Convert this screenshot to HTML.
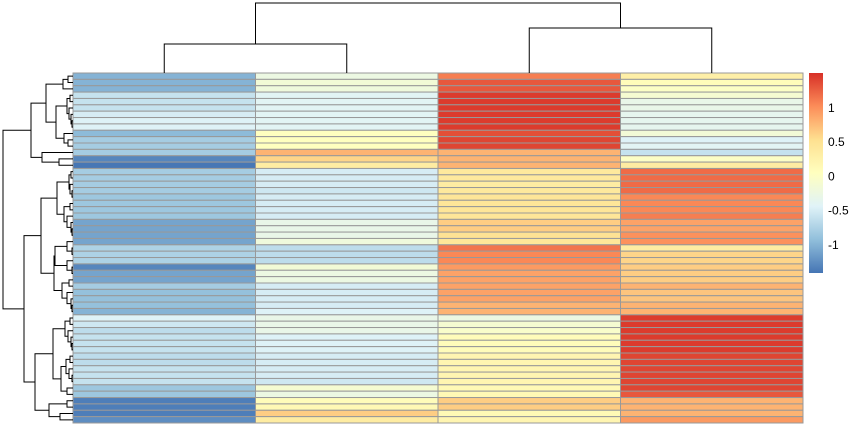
<!DOCTYPE html>
<html><head><meta charset="utf-8"><style>
html,body{margin:0;padding:0;background:#fff;}
svg{display:block;font-family:"Liberation Sans",sans-serif;}
</style></head><body>
<svg id="chart" width="855" height="430"></svg>
<script>
const columns = ["S1","S2","S3","S4"];
const values = [
[-1.0,-0.25,1.1,0.3],[-1.0,-0.15,1.3,0.1],[-1.0,-0.2,1.3,0.0],[-0.6,-0.4,1.45,-0.1],[-0.6,-0.4,1.45,-0.3],
[-0.6,-0.4,1.45,-0.3],[-0.5,-0.4,1.45,-0.35],[-0.45,-0.4,1.45,-0.35],[-0.45,-0.4,1.45,-0.35],[-0.95,0.05,1.35,-0.15],
[-0.8,0.05,1.4,-0.45],[-0.8,0.05,1.4,-0.4],[-0.8,0.8,0.8,-0.6],[-1.3,0.6,0.8,0.0],[-1.4,0.35,0.8,0.35],
[-0.8,-0.5,0.4,1.2],[-0.8,-0.5,0.4,1.2],[-0.8,-0.5,0.35,1.2],[-0.8,-0.55,0.4,1.2],[-0.85,-0.5,0.45,1.05],
[-0.85,-0.5,0.45,1.05],[-0.85,-0.5,0.45,1.05],[-0.85,-0.5,0.45,1.1],[-1.1,-0.3,0.65,0.9],[-1.1,-0.3,0.65,0.9],
[-1.1,-0.3,0.5,1.0],[-1.1,-0.2,0.45,1.0],[-0.75,-0.65,1.15,0.35],[-0.75,-0.65,1.05,0.6],[-0.75,-0.65,1.05,0.6],
[-1.3,-0.15,0.95,0.65],[-1.1,-0.25,0.9,0.65],[-1.1,-0.25,0.9,0.65],[-0.8,-0.5,0.9,0.8],[-0.9,-0.5,0.9,0.7],
[-0.9,-0.5,0.9,0.7],[-0.9,-0.5,0.8,0.8],[-1.0,-0.45,0.8,0.8],[-0.45,-0.3,-0.25,1.45],[-0.55,-0.3,-0.1,1.45],
[-0.65,-0.3,-0.05,1.45],[-0.6,-0.45,0.1,1.45],[-0.6,-0.45,0.1,1.45],[-0.6,-0.45,0.1,1.45],[-0.65,-0.5,0.2,1.4],
[-0.65,-0.5,0.2,1.4],[-0.6,-0.5,0.2,1.4],[-0.6,-0.5,0.2,1.4],[-0.6,-0.55,0.2,1.4],[-0.85,-0.1,0.15,1.4],
[-0.85,-0.25,0.15,1.3],[-1.35,0.1,0.65,0.8],[-1.35,0.15,0.65,0.8],[-1.35,0.65,0.15,0.8],[-1.25,0.35,0.2,0.95]
];
const legendTicks = [1,0.5,0,-0.5,-1];
const vmin = -1.41, vmax = 1.51;
const palette = ["#4575B4","#91BFDB","#E0F3F8","#FFFFBF","#FEE090","#FC8D59","#D73027"];

const NS="http://www.w3.org/2000/svg";
const svg=document.getElementById('chart');
function mk(tag,attrs,parent){const e=document.createElementNS(NS,tag);for(const k in attrs)e.setAttribute(k,attrs[k]);(parent||svg).appendChild(e);return e;}
function hex(h){return [1,3,5].map(i=>parseInt(h.substr(i,2),16));}
function color(v){let t=(v-vmin)/(vmax-vmin);t=Math.max(0,Math.min(1,t))*(palette.length-1);
 const i=Math.min(Math.floor(t),palette.length-2),f=t-i;const a=hex(palette[i]),b=hex(palette[i+1]);
 return "rgb("+a.map((x,k)=>Math.round(x+(b[k]-x)*f)).join(",")+")";}

const X0=73,X1=803,Y0=73,Y1=423;
const nRows=values.length,nCols=columns.length;
const cw=(X1-X0)/nCols,rh=(Y1-Y0)/nRows;
const xCell=j=>X0+j*cw, yCell=i=>Y0+i*rh;

const cells=mk('g',{});


values.forEach((row,i)=>row.forEach((v,j)=>{
 const r=mk('rect',{x:xCell(j),y:yCell(i),width:cw,height:rh,fill:color(v),stroke:"#999999","stroke-width":1},cells);
 
 
}));

// column dendrogram
const cd=mk('g',{stroke:"#000",fill:"none","stroke-width":1});


const cx=j=>xCell(j)+cw/2;
function pl(pts,g){mk('polyline',{points:pts.map(p=>p.join(",")).join(" ")},g);}
pl([[cx(0),73],[cx(0),44],[cx(1),44],[cx(1),73]],cd);
pl([[cx(2),73],[cx(2),28],[cx(3),28],[cx(3),73]],cd);
const m1=(cx(0)+cx(1))/2,m2=(cx(2)+cx(3))/2;
pl([[m1,44],[m1,3],[m2,3],[m2,28]],cd);

// row dendrogram
const rd=mk('g',{stroke:"#000",fill:"none","stroke-width":1});


function n(h,c){return {h:h,c:c};}
const A=n(31,[n(46,[n(63,[n(68,[0,1]),2]),n(56,[n(67,[n(70,[3,4]),n(69,[5,n(71,[6,n(72,[7,8])])])]),n(64,[9,n(68,[10,11])])])]),n(42,[12,n(59,[13,14])])]);
const B=n(41,[n(57,[n(69,[n(71,[15,16]),n(70,[17,n(72,[18,19])])]),n(64,[n(70,[20,21]),n(67,[22,n(71,[23,n(72,[24,25])])])])]),n(54,[n(55,[n(67,[26,n(72,[27,28])]),n(67,[29,n(72,[30,31])])]),n(62,[n(69,[32,33]),n(67,[34,n(71,[35,n(72,[36,37])])])])])]);
const C=n(35,[n(53,[n(65,[n(70,[38,39]),n(68,[40,n(71,[41,n(72,[42,43])])])]),n(61,[n(66,[n(70,[44,45]),n(69,[46,n(72,[47,48])])]),n(67,[49,50])])]),n(49,[n(67,[51,52]),n(60,[53,54])])]);
const root=n(3,[A,n(24,[B,C])]);
function draw(node){
 if(typeof node==="number")return {x:73,y:yCell(node)+rh/2};
 const a=draw(node.c[0]),b=draw(node.c[1]);
 pl([[a.x,a.y],[node.h,a.y],[node.h,b.y],[b.x,b.y]],rd);
 return {x:node.h,y:(a.y+b.y)/2};
}
draw(root);

// legend
const defs=mk('defs',{});
const lg=mk('linearGradient',{id:"lg",x1:0,y1:1,x2:0,y2:0},defs);
palette.forEach((c,i)=>mk('stop',{offset:i/(palette.length-1),"stop-color":c},lg));
const leg=mk('g',{});


const LY0=73,LY1=273;
const ly=v=>LY1-(v-vmin)/(vmax-vmin)*(LY1-LY0);
const bar=mk('rect',{x:809,y:LY0,width:14,height:LY1-LY0,fill:"url(#lg)"},leg);


legendTicks.forEach(t=>{
 const tx=mk('text',{x:828,y:ly(t)+4,"font-size":12,fill:"#000"},leg);
 tx.textContent=String(t);
 
 
});
</script>
</body></html>
